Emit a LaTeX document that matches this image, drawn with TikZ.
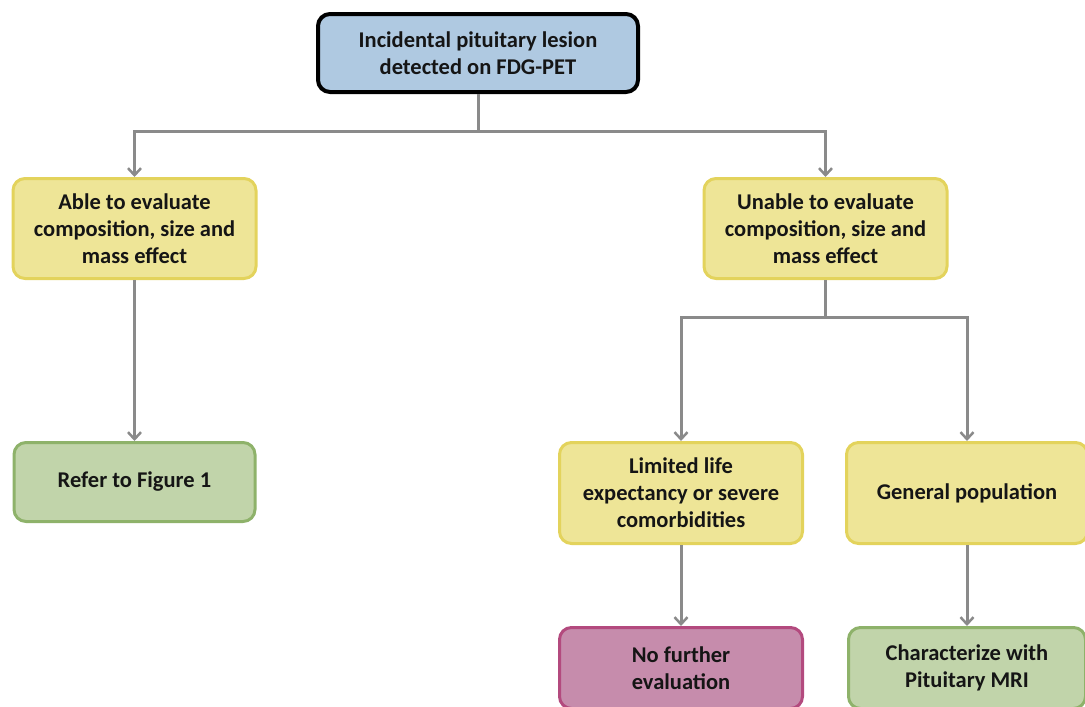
\documentclass[tikz,border=0pt]{standalone}
\usepackage{fontspec}
\setmainfont{Carlito}
\usetikzlibrary{arrows.meta}
\definecolor{blueF}{HTML}{AFC9E1}
\definecolor{yelF}{HTML}{EEE597}
\definecolor{yelD}{HTML}{E3D35C}
\definecolor{grnF}{HTML}{C1D4AA}
\definecolor{grnD}{HTML}{8EB26A}
\definecolor{pnkF}{HTML}{C68CAC}
\definecolor{pnkD}{HTML}{B34A7E}
\definecolor{lineC}{HTML}{8A8A8A}
\definecolor{txtC}{HTML}{151515}
\tikzset{
  box/.style={rounded corners=12pt, line width=3pt, align=center, inner sep=0pt,
    font=\fontsize{22.5}{27}\selectfont\bfseries, text=txtC},
  bluebox/.style={box, draw=black, fill=blueF, line width=4pt},
  yelbox/.style={box, draw=yelD, fill=yelF},
  grnbox/.style={box, draw=grnD, fill=grnF},
  pnkbox/.style={box, draw=pnkD, fill=pnkF},
  conn/.style={draw=lineC, line width=3pt},
  arr/.style={conn, -{Straight Barb[length=7pt,width=13pt,line width=2.5pt]}}
}
\begin{document}
\begin{tikzpicture}[x=1pt,y=-1pt]
\useasboundingbox (0,0) rectangle (1085,707);
\clip (0,0) rectangle (1085,707);
\node[bluebox, minimum width=320pt, minimum height=78pt] (top) at (478,53) {Incidental pituitary lesion\\detected on FDG-PET};
\node[yelbox, minimum width=243pt, minimum height=100pt] (able) at (134.5,228.5) {Able to evaluate\\composition, size and\\mass effect};
\node[yelbox, minimum width=243pt, minimum height=100pt] (unable) at (825.5,228.5) {Unable to evaluate\\composition, size and\\mass effect};
\node[grnbox, minimum width=241pt, minimum height=79pt] (refer) at (134.5,482) {Refer to Figure 1};
\node[yelbox, minimum width=243pt, minimum height=101pt] (limited) at (681,493) {Limited life\\expectancy or severe\\comorbidities};
\node[yelbox, minimum width=241pt, minimum height=101pt] (general) at (967,493) {General population};
\node[pnkbox, minimum width=243pt, minimum height=81pt] (nofurther) at (681,668) {No further\\evaluation};
\node[grnbox, minimum width=237pt, minimum height=81pt] (charac) at (967,668) {Characterize with\\Pituitary MRI};
\coordinate (j1) at (478,131);
\coordinate (j2) at (825.5,317);
\draw[conn] (top.south) -- (j1);
\draw[arr] (j1) -| (able.north);
\draw[arr] (j1) -| (unable.north);
\draw[arr] (able.south) -- (refer.north);
\draw[conn] (unable.south) -- (j2);
\draw[arr] (j2) -| (limited.north);
\draw[arr] (j2) -| (general.north);
\draw[arr] (limited.south) -- (nofurther.north);
\draw[arr] (general.south) -- (charac.north);
\end{tikzpicture}
\end{document}
